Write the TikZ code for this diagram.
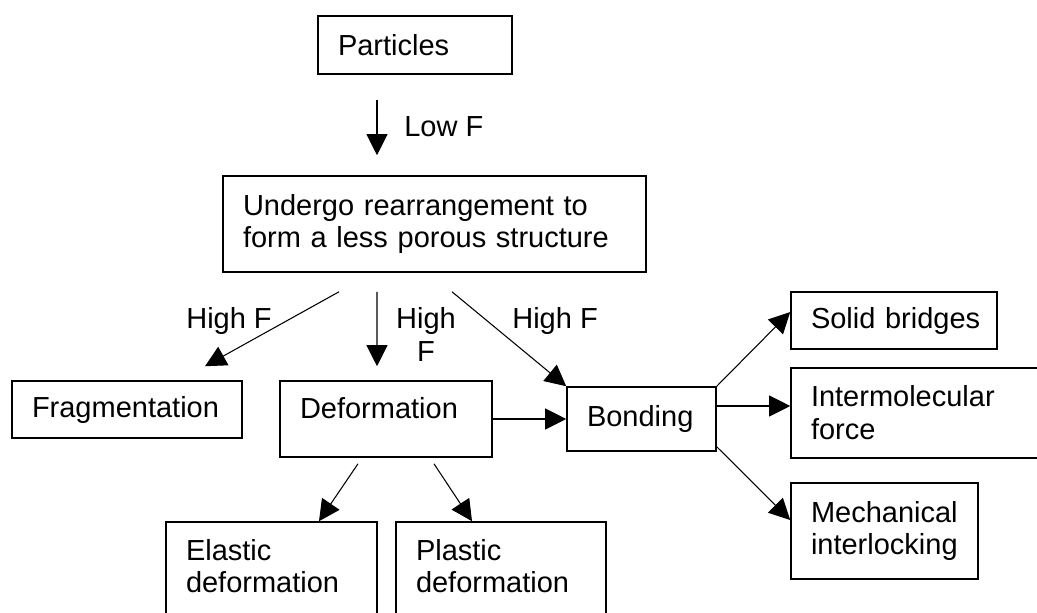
\documentclass[tikz,border=0pt]{standalone}
\usepackage{fontspec}
\setmainfont{Liberation Sans}
\usepackage{tikz}
\usetikzlibrary{arrows.meta}
\newcommand{\fs}{\fontsize{16.5}{18.7}\selectfont}
\hyphenpenalty=10000
\exhyphenpenalty=10000

\begin{document}
\begin{tikzpicture}[
      bx/.style={draw, line width=0.9pt, font=\fs, align=left,
          inner xsep=0.4cm, inner ysep=0pt},
      lbl/.style={font=\fs, inner sep=0pt},
      arr/.style={-{Triangle[length=0.42cm, width=0.42cm]}, line width=0.6pt},
    ]
    \clip (0,0) rectangle (20.74,-12.26);

    % ---- Boxes (1px = 0.02cm, origin top left) ----
    \node[bx, text width=3.08cm, minimum height=1.16cm] (P) at (8.30, -0.90) {Particles};
    \node[bx, text width=7.66cm, minimum height=1.92cm] (U) at (8.69, -4.48)
    {Undergo rearrangement to\\form a less porous structure};
    \node[bx, text width=3.80cm, minimum height=1.14cm] (Fr) at (2.54, -8.19) {Fragmentation};
    % text sits at the top of these boxes
    \node[bx, text width=3.44cm, text height=0.74cm, text depth=0.78cm] (D) at (7.72, -8.38) {Deformation};
    \node[bx, text width=3.42cm, text height=0.76cm, text depth=1.16cm] (E) at (5.43, -11.40) {Elastic\\deformation};
    \node[bx, text width=3.40cm, text height=0.76cm, text depth=1.16cm] (Pl) at (10.02, -11.40) {Plastic\\deformation};
    % bonding and its mechanisms
    \node[bx, text width=2.18cm, minimum height=1.28cm] (B) at (12.83, -8.38) {Bonding};
    \node[bx, text width=3.32cm, minimum height=1.14cm] (S) at (17.88, -6.41) {Solid~bridges};
    \node[bx, text width=4.38cm, minimum height=1.80cm] (I) at (18.41, -8.26) {Intermolecular\\force};
    \node[bx, text width=2.94cm, minimum height=1.92cm] (M) at (17.69, -10.62) {Mechanical\\interlocking};

    % ---- Force labels ----
    \node[lbl, anchor=base west] (lowF) at (8.08, -2.72) {Low F};
    \node[lbl, anchor=base west] (hfL) at (3.72, -6.56) {High F};
    \node[lbl, anchor=north, align=center] (hfM) at (8.52, -6.14) {High\\F};
    \node[lbl, anchor=base west] (hfR) at (10.24, -6.56) {High F};

    % ---- Arrows ----
    \draw[arr] ([xshift=-0.76cm, yshift=-0.50cm]P.south) -- ([xshift=-1.15cm, yshift=0.40cm]U.north);
    \draw[arr] ([xshift=-1.91cm, yshift=-0.38cm]U.south) -- ([xshift=1.56cm, yshift=0.28cm]Fr.north);
    \draw[arr] ([xshift=-1.15cm, yshift=-0.38cm]U.south) -- ([xshift=-0.18cm, yshift=0.28cm]D.north);
    \draw[arr] ([xshift=0.35cm, yshift=-0.38cm]U.south) -- (B.north west);
    \draw[arr] (D.east) -- (B.west);
    \draw[arr] ([xshift=-0.56cm, yshift=-0.12cm]D.south) -- ([xshift=0.95cm]E.north);
    \draw[arr] ([xshift=0.96cm, yshift=-0.12cm]D.south) -- ([xshift=-0.58cm]Pl.north);
    \draw[arr] (B.north east) -- ([yshift=0.17cm]S.west);
    \draw[arr] ([yshift=0.26cm]B.east) -- ([yshift=0.26cm]B.east -| I.west);
    \draw[arr] ([yshift=0.10cm]B.south east) -- ([yshift=0.22cm]M.west);

  \end{tikzpicture}
\end{document}
